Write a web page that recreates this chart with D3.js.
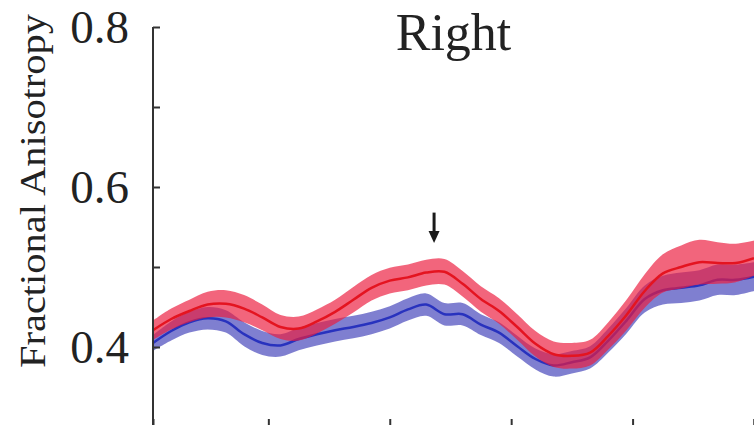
<!DOCTYPE html>
<html>
<head>
<meta charset="utf-8">
<script src="https://cdn.jsdelivr.net/npm/d3@7/dist/d3.min.js"></script>
<style>
  html, body { margin: 0; padding: 0; background: #fff; }
  svg { display: block; }
  text { font-family: "Liberation Serif", "Times New Roman", serif; fill: #222; }
</style>
</head>
<body>
<svg id="chart" width="754" height="425"></svg>
<script>
// Along-tract node positions
const nodes = [1, 4, 7, 10, 13, 16, 19, 22, 25, 28, 31, 34, 37, 40, 43, 46, 49, 52, 55, 58,
               61, 64, 67, 70, 73, 76, 79, 82, 85, 88, 91, 94, 97, 100];

// Group means (FA)
const redMean = [0.421, 0.435, 0.445, 0.453, 0.454, 0.448, 0.437, 0.425, 0.423, 0.432,
                 0.444, 0.459, 0.474, 0.483, 0.487, 0.493, 0.494, 0.479, 0.460, 0.445,
                 0.425, 0.404, 0.391, 0.389, 0.393, 0.414, 0.440, 0.470, 0.492, 0.500,
                 0.506, 0.505, 0.505, 0.511];
const blueMean = [0.405, 0.420, 0.431, 0.436, 0.432, 0.416, 0.405, 0.402, 0.410, 0.416,
                  0.421, 0.425, 0.430, 0.437, 0.447, 0.453, 0.441, 0.441, 0.428, 0.418,
                  0.401, 0.385, 0.377, 0.381, 0.387, 0.408, 0.433, 0.460, 0.471, 0.474,
                  0.477, 0.484, 0.484, 0.488];

// Standard-error half widths for the shaded bands
const redSE = [0.012, 0.013, 0.014, 0.016, 0.017, 0.017, 0.016, 0.015, 0.015, 0.015,
               0.015, 0.016, 0.016, 0.016, 0.016, 0.016, 0.016, 0.016, 0.016, 0.016,
               0.016, 0.016, 0.016, 0.016, 0.016, 0.017, 0.019, 0.021, 0.024, 0.027,
               0.028, 0.026, 0.024, 0.022];
const blueSE = [0.010, 0.012, 0.013, 0.014, 0.014, 0.015, 0.015, 0.014, 0.014, 0.014,
                0.014, 0.014, 0.014, 0.014, 0.014, 0.014, 0.014, 0.014, 0.013, 0.013,
                0.013, 0.013, 0.014, 0.014, 0.014, 0.015, 0.016, 0.017, 0.018, 0.019,
                0.019, 0.019, 0.019, 0.018];

const xTicks = [20, 40, 60, 80, 100];
const yTicks = [0.4, 0.5, 0.6, 0.7, 0.8];
const yTickLabels = ["0.4", "", "0.6", "", "0.8"];
const title = "Right";
const yLabel = "Fractional Anisotropy";
// Marked location (node) with arrow tip / tail in FA units
const arrowNode = 47.3;
const arrowTip = 0.530;
const arrowTail = 0.568;

const svg = d3.select("#chart");
const x = d3.scaleLinear().domain([1, 100]).range([153, 754]);
const y = d3.scaleLinear().domain([0.3, 0.8]).range([427, 27]);

const redSeries = nodes.map((n, i) => ({ n, m: redMean[i], se: redSE[i] }));
const blueSeries = nodes.map((n, i) => ({ n, m: blueMean[i], se: blueSE[i] }));

const area = d3.area()
  .x(d => x(d.n))
  .y0(d => y(d.m - d.se))
  .y1(d => y(d.m + d.se))
  .curve(d3.curveCatmullRom);
const line = d3.line()
  .x(d => x(d.n))
  .y(d => y(d.m))
  .curve(d3.curveCatmullRom);

// Blue group first, red group layered over it
svg.append("path").datum(blueSeries).attr("d", area)
  .attr("fill", "rgb(55,55,182)").attr("fill-opacity", 0.64);
svg.append("path").datum(blueSeries).attr("d", line)
  .attr("fill", "none").attr("stroke", "rgb(40,50,190)").attr("stroke-width", 2.5);
svg.append("path").datum(redSeries).attr("d", area)
  .attr("fill", "rgb(236,28,62)").attr("fill-opacity", 0.68);
svg.append("path").datum(redSeries).attr("d", line)
  .attr("fill", "none").attr("stroke", "rgb(228,20,32)").attr("stroke-width", 2.5);

// Axes with inward ticks
const yAxis = d3.axisRight(y).tickValues(yTicks).tickSize(7).tickFormat("");
const gy = svg.append("g").attr("transform", `translate(${x(1)},0)`).call(yAxis);
gy.select(".domain").attr("d", `M0,${y(0.8)}V${y(0.3)}`);
gy.selectAll("path, line").attr("stroke", "#333").attr("stroke-width", 2);

const xAxis = d3.axisTop(x).tickValues(xTicks).tickSize(7).tickFormat("");
const gx = svg.append("g").attr("transform", `translate(0,${y(0.3) - 1})`).call(xAxis);
gx.selectAll("path, line").attr("stroke", "#333").attr("stroke-width", 2);

// Tick labels
svg.append("g").selectAll("text")
  .data(yTicks.map((v, i) => ({ v, t: yTickLabels[i] })).filter(d => d.t))
  .join("text")
  .attr("x", 129)
  .attr("y", d => y(d.v) + 16)
  .attr("text-anchor", "end")
  .attr("font-size", 47)
  .text(d => d.t);

// Title
svg.append("text")
  .attr("x", (x(1) + x(100)) / 2)
  .attr("y", 50)
  .attr("text-anchor", "middle")
  .attr("font-size", 52)
  .text(title);

// Y axis label
svg.append("text")
  .attr("transform", "translate(45,191) rotate(-90) scale(1,0.88)")
  .attr("text-anchor", "middle")
  .attr("font-size", 40.5)
  .text(yLabel);

// Arrow marking a location of interest
const ax = x(arrowNode);
svg.append("line")
  .attr("x1", ax).attr("x2", ax)
  .attr("y1", y(arrowTail)).attr("y2", y(arrowTip) - 10)
  .attr("stroke", "#1a1a1a").attr("stroke-width", 3);
svg.append("path")
  .attr("d", `M${ax - 5.5},${y(arrowTip) - 12}L${ax + 5.5},${y(arrowTip) - 12}L${ax},${y(arrowTip)}Z`)
  .attr("fill", "#1a1a1a");
</script>
</body>
</html>
